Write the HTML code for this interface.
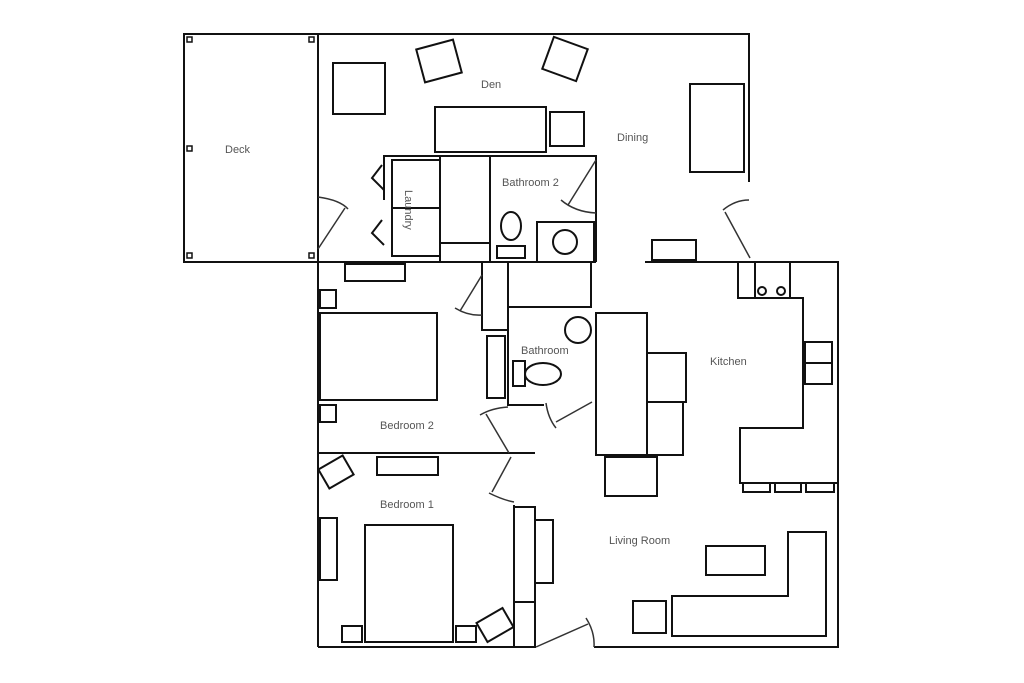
<!DOCTYPE html>
<html><head><style>body{margin:0;background:#fff}svg{display:block}text{font-family:"Liberation Sans",sans-serif;font-size:11px;fill:#555}</style></head><body>
<svg width="1024" height="683" viewBox="0 0 1024 683" xmlns="http://www.w3.org/2000/svg">
<g fill="none" stroke="#111" stroke-width="2">
<!-- outer -->
<rect x="184" y="34" width="134" height="228"/>
<polyline points="318,34 749,34 749,182"/>
<line x1="318" y1="34" x2="318" y2="647"/>
<polyline points="318,647 536,647"/><polyline points="594,647 838,647 838,262 645,262"/>
<line x1="318" y1="262" x2="596" y2="262"/>
<!-- deck posts -->
<g stroke-width="1.5"><rect x="187" y="37" width="5" height="5"/><rect x="309" y="37" width="5" height="5"/><rect x="187" y="146" width="5" height="5"/><rect x="187" y="253" width="5" height="5"/><rect x="309" y="253" width="5" height="5"/></g>
<!-- den furniture -->
<rect x="333" y="63" width="52" height="51"/>
<rect x="420" y="44" width="38" height="34" transform="rotate(-15 439 61)"/>
<rect x="547" y="42" width="36" height="34" transform="rotate(20 565 59)"/>
<rect x="435" y="107" width="111" height="45"/>
<rect x="550" y="112" width="34" height="34"/>
<rect x="690" y="84" width="54" height="88"/>
<rect x="652" y="240" width="44" height="20"/>
<!-- laundry / bath2 -->
<polyline points="384,200 384,156 596,156 596,262"/>
<rect x="392" y="160" width="48" height="48"/><rect x="392" y="208" width="48" height="48"/>
<rect x="440" y="156" width="50" height="106"/><line x1="440" y1="243" x2="490" y2="243"/>
<rect x="537" y="222" width="57" height="40"/>
<circle cx="565" cy="242" r="12"/>
<ellipse cx="511" cy="226" rx="10" ry="14"/><rect x="497" y="246" width="28" height="12"/>
<polyline points="382,165 372,178 384,190"/><polyline points="382,220 372,233 384,245"/>
<!-- bathroom -->
<rect x="508" y="262" width="83" height="45"/>
<polyline points="508,262 508,405 544,405"/>
<polyline points="482,262 482,330 508,330"/>
<circle cx="578" cy="330" r="13"/>
<rect x="513" y="361" width="12" height="25"/><ellipse cx="543" cy="374" rx="18" ry="11"/>
<line x1="596" y1="312" x2="596" y2="455"/>
<!-- kitchen -->
<rect x="596" y="313" width="51" height="142"/>
<rect x="647" y="353" width="39" height="49"/><rect x="647" y="402" width="36" height="53"/>
<rect x="605" y="457" width="52" height="39"/>
<polyline points="738,262 738,298 790,298 790,262"/>
<rect x="755" y="262" width="35" height="36"/>
<circle cx="762" cy="291" r="4"/><circle cx="781" cy="291" r="4"/>
<polyline points="790,298 803,298 803,428 740,428 740,483 838,483"/>
<rect x="805" y="342" width="27" height="42"/><line x1="805" y1="363" x2="832" y2="363"/>
<rect x="743" y="483" width="27" height="9"/><rect x="775" y="483" width="26" height="9"/><rect x="806" y="483" width="28" height="9"/>
<!-- bedroom 2 -->
<line x1="318" y1="453" x2="535" y2="453"/>
<rect x="320" y="313" width="117" height="87"/>
<rect x="320" y="290" width="16" height="18"/><rect x="320" y="405" width="16" height="17"/>
<rect x="345" y="264" width="60" height="17"/>
<rect x="487" y="336" width="18" height="62"/>
<!-- bedroom 1 -->
<line x1="514" y1="505" x2="514" y2="647"/>
<polyline points="514,507 535,507 535,647"/><line x1="514" y1="602" x2="535" y2="602"/>
<rect x="535" y="520" width="18" height="63"/>
<rect x="365" y="525" width="88" height="117"/>
<rect x="342" y="626" width="20" height="16"/><rect x="456" y="626" width="20" height="16"/>
<rect x="320" y="518" width="17" height="62"/>
<rect x="322" y="461" width="28" height="22" transform="rotate(-30 336 472)"/>
<rect x="377" y="457" width="61" height="18"/>
<rect x="480" y="614" width="30" height="22" transform="rotate(-30 495 625)"/>
<!-- living -->
<rect x="706" y="546" width="59" height="29"/>
<polygon points="672,596 788,596 788,532 826,532 826,636 672,636"/>
<rect x="633" y="601" width="33" height="32"/>
</g>
<!-- doors -->
<g fill="none" stroke="#333" stroke-width="1.5">
<line x1="318" y1="249" x2="345" y2="208"/><path d="M318,197 Q340,200 348,209"/>
<line x1="596" y1="160" x2="568" y2="205"/><path d="M561,200 Q575,212 596,213"/>
<line x1="482" y1="275" x2="460" y2="311"/><path d="M455,308 Q468,316 482,315"/>
<line x1="556" y1="422" x2="592" y2="402"/><path d="M546,403 Q548,418 556,428"/>
<line x1="509" y1="453" x2="486" y2="414"/><path d="M480,415 Q492,408 508,407"/>
<line x1="511" y1="457" x2="492" y2="492"/><path d="M489,493 Q503,500 514,502"/>
<line x1="536" y1="647" x2="588" y2="624"/><path d="M586,618 Q595,632 594,647"/>
<line x1="750" y1="258" x2="725" y2="212"/><path d="M723,210 Q735,200 749,200"/>
</g>
<text x="225" y="153">Deck</text>
<text x="481" y="88">Den</text>
<text x="617" y="141">Dining</text>
<text x="502" y="186">Bathroom 2</text>
<text x="521" y="354">Bathroom</text>
<text x="710" y="365">Kitchen</text>
<text x="380" y="429">Bedroom 2</text>
<text x="380" y="508">Bedroom 1</text>
<text x="609" y="544">Living Room</text>
<text transform="translate(405,190) rotate(90)">Laundry</text>
</svg>
</body></html>
